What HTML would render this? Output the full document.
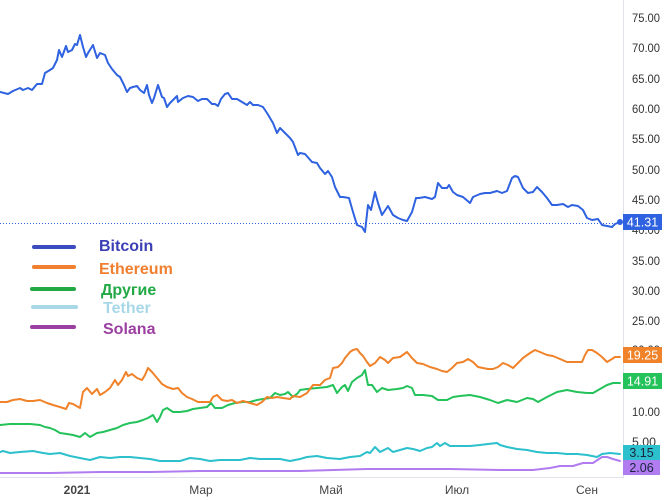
<!DOCTYPE html>
<html>
<head>
<meta charset="utf-8">
<style>
html,body{margin:0;padding:0;background:#fff;}
svg{display:block;}
.tick{font-family:"Liberation Sans",sans-serif;font-size:12px;fill:#333;}
.xl{font-family:"Liberation Sans",sans-serif;font-size:12px;fill:#444;}
.leg{font-family:"Liberation Sans",sans-serif;font-size:16px;font-weight:bold;}
.box{font-family:"Liberation Sans",sans-serif;font-size:12.5px;}
</style>
</head>
<body>
<svg width="667" height="500" viewBox="0 0 667 500" xmlns="http://www.w3.org/2000/svg">
<rect width="667" height="500" fill="#fff"/>
<!-- axes borders -->
<line x1="623.5" y1="0" x2="623.5" y2="478" stroke="#e0e3eb" stroke-width="1"/>
<line x1="0" y1="477.5" x2="623" y2="477.5" stroke="#e0e3eb" stroke-width="1"/>

<!-- y tick labels -->
<g class="tick">
<text x="632" y="22" textLength="28" lengthAdjust="spacingAndGlyphs">75.00</text>
<text x="632" y="52" textLength="28" lengthAdjust="spacingAndGlyphs">70.00</text>
<text x="632" y="83" textLength="28" lengthAdjust="spacingAndGlyphs">65.00</text>
<text x="632" y="113" textLength="28" lengthAdjust="spacingAndGlyphs">60.00</text>
<text x="632" y="143" textLength="28" lengthAdjust="spacingAndGlyphs">55.00</text>
<text x="632" y="174" textLength="28" lengthAdjust="spacingAndGlyphs">50.00</text>
<text x="632" y="204" textLength="28" lengthAdjust="spacingAndGlyphs">45.00</text>
<text x="632" y="234" textLength="28" lengthAdjust="spacingAndGlyphs">40.00</text>
<text x="632" y="265" textLength="28" lengthAdjust="spacingAndGlyphs">35.00</text>
<text x="632" y="295" textLength="28" lengthAdjust="spacingAndGlyphs">30.00</text>
<text x="632" y="325" textLength="28" lengthAdjust="spacingAndGlyphs">25.00</text>
<text x="632" y="354" textLength="28" lengthAdjust="spacingAndGlyphs">20.00</text>
<text x="632" y="385" textLength="28" lengthAdjust="spacingAndGlyphs">15.00</text>
<text x="632" y="416" textLength="28" lengthAdjust="spacingAndGlyphs">10.00</text>
<text x="632" y="446" textLength="24" lengthAdjust="spacingAndGlyphs">5.00</text>
</g>

<!-- x labels -->
<text x="77" y="494" text-anchor="middle" class="xl" font-weight="bold" fill="#333">2021</text>
<text x="201" y="494" text-anchor="middle" class="xl">Мар</text>
<text x="331" y="494" text-anchor="middle" class="xl">Май</text>
<text x="457" y="494" text-anchor="middle" class="xl">Июл</text>
<text x="587" y="494" text-anchor="middle" class="xl">Сен</text>

<!-- dotted last-price line -->
<line x1="0" y1="223.5" x2="622" y2="223.5" stroke="#2f62e0" stroke-width="1" stroke-dasharray="1,2"/>

<g fill="none" stroke-width="2" stroke-linejoin="round" stroke-linecap="round">
<!-- Solana -->
<polyline stroke="#b07cf0" points="0,473 50,473 100,472 150,472 200,471 250,471 300,471 367,469 400,469 450,469 500,470 533,470 550,468 560,466 573,466 583,463 593,463 602,457 607,457 613,459 620,461"/>
<!-- Tether -->
<polyline stroke="#2bc0cc" points="0,452 3,451 10,453 20,452 33,451 43,453 50,454 60,453 70,456 80,458 90,460 100,457 110,458 120,457 130,457 140,458 150,459 160,461 170,461 180,461 190,458 200,459 210,461 220,460 230,460 240,460 250,458 260,459 270,459 280,459 290,461 300,459 307,457 317,456 327,458 340,459 350,457 360,456 367,452 370,453 375,447 380,452 388,448 393,452 400,450 407,448 413,449 420,451 427,448 432,447 437,443 440,446 445,443 450,446 460,446 470,446 480,445 488,444 497,443 500,445 507,447 517,449 527,450 537,452 547,453 557,453 567,454 577,454 587,455 597,457 602,454 610,453 620,454"/>
<!-- Others -->
<polyline stroke="#24c25a" points="0,425 10,424 20,424 30,424 40,425 45,427 50,428 55,430 60,433 67,434 73,435 80,437 85,433 90,437 97,433 103,432 110,430 117,428 123,425 130,423 137,422 143,420 148,418 153,415 157,422 160,417 163,410 167,408 173,412 180,412 187,411 193,409 200,408 207,407 211,403 215,408 222,408 228,405 235,403 243,402 250,402 257,400 263,399 270,398 275,393 280,395 285,394 288,392 293,397 298,393 300,390 307,389 317,388 327,387 333,385 337,393 342,387 345,385 348,391 352,382 357,378 362,375 365,370 368,385 372,385 377,392 382,388 388,390 397,389 403,388 407,386 412,388 415,395 423,395 432,396 438,400 447,400 453,397 460,396 470,395 480,397 490,400 498,403 507,400 517,402 527,398 533,399 538,402 547,397 557,392 567,390 577,392 587,393 593,393 600,389 607,385 613,383 620,383"/>
<!-- Ethereum -->
<polyline stroke="#f0822a" points="0,402 7,402 13,400 20,399 27,401 33,401 40,400 47,403 53,405 60,407 66,409 69,403 73,404 80,408 83,392 87,388 92,394 97,389 100,395 105,392 110,388 115,380 118,385 122,380 126,372 128,376 132,374 137,378 142,380 145,375 148,368 152,372 157,378 162,384 167,387 173,389 178,388 182,393 187,397 192,399 198,402 205,402 210,402 213,397 217,395 222,400 227,401 232,400 237,403 243,401 250,403 257,405 262,402 267,397 272,398 277,397 283,398 290,399 293,396 300,397 307,393 313,385 320,385 325,380 330,378 333,368 338,367 342,363 345,358 350,352 353,350 357,349 360,353 363,356 367,362 370,366 375,363 380,357 385,360 388,363 393,358 400,357 407,352 412,358 417,363 423,364 430,367 437,369 442,371 447,372 452,368 457,363 463,362 468,359 473,362 478,367 483,368 488,369 493,369 498,367 503,363 508,365 513,368 518,363 523,358 530,353 535,350 540,352 547,355 553,356 560,359 567,362 573,362 582,362 585,355 588,350 592,350 597,353 602,357 607,362 612,359 615,357 620,357"/>
<!-- Bitcoin -->
<polyline stroke="#2f62e0" points="0,92 8,94 13,91 20,88 23,90 28,88 32,90 37,84 42,84 45,73 50,70 53,68 57,60 59,50 62,57 66,46 68,52 72,50 75,44 77,45 80,35 83,47 86,57 88,53 93,45 97,58 100,53 105,55 108,63 112,69 117,75 120,77 124,85 127,92 130,88 133,87 137,86 140,90 144,93 147,85 149,95 152,103 154,98 158,85 162,97 164,98 167,107 170,103 173,100 177,96 178,102 183,98 188,96 193,97 198,101 202,99 207,99 212,104 215,104 218,106 221,99 225,94 228,93 232,99 237,99 242,102 247,105 250,102 253,105 258,105 263,107 267,113 270,118 273,123 277,133 280,128 285,133 290,138 293,142 298,155 300,153 305,154 312,162 317,163 320,168 325,174 328,171 332,177 335,187 340,197 343,197 349,198 353,212 357,225 362,227 365,232 368,205 371,210 375,192 378,203 382,215 388,206 393,215 398,218 403,220 407,221 412,212 416,198 419,198 425,197 432,199 435,197 438,183 442,188 447,188 449,185 453,192 457,195 463,197 470,203 473,197 480,194 485,193 490,193 497,191 502,193 507,191 512,178 515,176 518,177 523,188 528,193 533,192 537,187 542,192 547,198 552,205 557,205 563,204 568,207 572,205 578,206 583,210 587,218 592,220 598,219 602,225 607,226 612,227 615,224 620,222"/>
</g>
<circle cx="620" cy="222" r="3" fill="#2f62e0"/>

<!-- price boxes -->
<rect x="623" y="214" width="39" height="16" fill="#2f62e0"/>
<text x="642.5" y="226.5" text-anchor="middle" class="box" fill="#fff">41.31</text>
<rect x="623" y="347" width="39" height="16" fill="#f0822a"/>
<text x="642.5" y="359.5" text-anchor="middle" class="box" fill="#fff">19.25</text>
<rect x="623" y="373" width="39" height="16" fill="#24c25a"/>
<text x="642.5" y="385.5" text-anchor="middle" class="box" fill="#fff">14.91</text>
<rect x="623" y="445" width="37" height="15" fill="#2bc0cc"/>
<text x="641.5" y="457" text-anchor="middle" class="box" fill="#1c2540">3.15</text>
<rect x="623" y="460" width="37" height="15" fill="#b07cf0"/>
<text x="641.5" y="472" text-anchor="middle" class="box" fill="#1c2540">2.06</text>

<!-- legend -->
<g stroke-width="4" stroke-linecap="round">
<line x1="34" y1="247" x2="74" y2="247" stroke="#3b4cc0"/>
<line x1="34" y1="267" x2="74" y2="267" stroke="#f08030"/>
<line x1="32" y1="289" x2="74" y2="289" stroke="#22a845"/>
<line x1="33" y1="307" x2="76" y2="307" stroke="#a8d8e8"/>
<line x1="32" y1="327" x2="74" y2="327" stroke="#9b3fa0"/>
</g>
<text x="99" y="251" class="leg" fill="#3a3fb5">Bitcoin</text>
<text x="99" y="274" class="leg" fill="#f08030">Ethereum</text>
<text x="101" y="295" class="leg" fill="#22a845">Другие</text>
<text x="103" y="313" class="leg" fill="#a8d8e8">Tether</text>
<text x="103" y="334" class="leg" fill="#9b3fa0">Solana</text>
</svg>
</body>
</html>
